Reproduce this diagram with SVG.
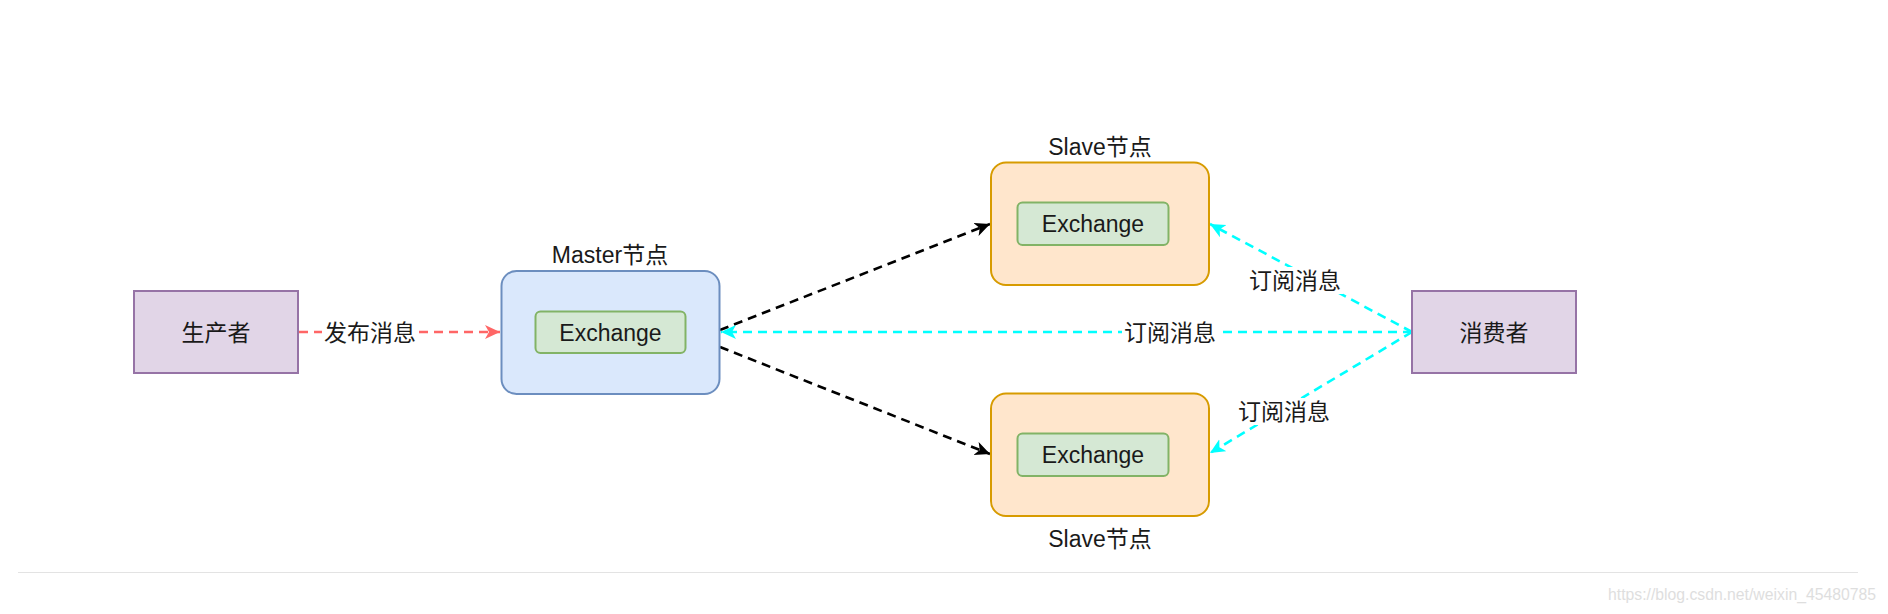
<svg xmlns="http://www.w3.org/2000/svg" width="1888" height="614" viewBox="0 0 1888 614">
<defs>
<style>
.t{font-family:"Liberation Sans","Noto Sans CJK SC",Arial,sans-serif;font-size:23px;fill:#1a1a1a;text-anchor:middle}
.lbl{fill:#ffffff}
.edge{fill:none;stroke-width:2.6;stroke-dasharray:9 6}
</style>
<marker id="arK" markerUnits="userSpaceOnUse" markerWidth="17" markerHeight="15" refX="15" refY="7" orient="auto"><path d="M0,0 L15,7 L0,14 L4,7 Z" fill="#000000"/></marker>
<marker id="arR" markerUnits="userSpaceOnUse" markerWidth="17" markerHeight="15" refX="15" refY="7" orient="auto"><path d="M0,0 L15,7 L0,14 L4,7 Z" fill="#ff6666"/></marker>
<marker id="arC" markerUnits="userSpaceOnUse" markerWidth="17" markerHeight="15" refX="15" refY="7" orient="auto"><path d="M0,0 L15,7 L0,14 L4,7 Z" fill="#00ffff"/></marker>
</defs>
<rect width="1888" height="614" fill="#ffffff"/>

<g id="connectors">
<line class="edge" x1="299" y1="332" x2="500" y2="332" stroke="#ff6666" marker-end="url(#arR)"/>
<line class="edge" x1="720" y1="330" x2="990" y2="224" stroke="#000000" marker-end="url(#arK)"/>
<line class="edge" x1="720" y1="347" x2="990" y2="454" stroke="#000000" marker-end="url(#arK)"/>
<line class="edge" x1="1412" y1="332" x2="721" y2="332" stroke="#00ffff" marker-end="url(#arC)"/>
<line class="edge" x1="1412" y1="332" x2="1210" y2="224" stroke="#00ffff" marker-end="url(#arC)"/>
<line class="edge" x1="1412" y1="332" x2="1210" y2="453" stroke="#00ffff" marker-end="url(#arC)"/>
<rect class="lbl" x="322" y="319" width="96" height="27"/>
<text class="t" x="370" y="341">发布消息</text>
<rect class="lbl" x="1122" y="319" width="96" height="27"/>
<text class="t" x="1170" y="341">订阅消息</text>
<rect class="lbl" x="1247" y="267" width="96" height="27"/>
<text class="t" x="1295" y="289">订阅消息</text>
<rect class="lbl" x="1236" y="398" width="96" height="27"/>
<text class="t" x="1284" y="420">订阅消息</text>
</g>

<g id="producer">
<rect x="134" y="291" width="164" height="82" fill="#e1d5e7" stroke="#9673a6" stroke-width="2"/>
<text class="t" x="216" y="341">生产者</text>
</g>

<g id="master">
<text class="t" x="610" y="263">Master节点</text>
<rect x="501.5" y="271" width="218" height="123" rx="15" fill="#dae8fc" stroke="#6c8ebf" stroke-width="2"/>
<rect x="535.5" y="311.5" width="150" height="41.5" rx="5" fill="#d5e8d4" stroke="#82b366" stroke-width="2"/>
<text class="t" x="610.5" y="341">Exchange</text>
</g>

<g id="slave-top">
<text class="t" x="1100" y="155">Slave节点</text>
<rect x="991" y="162.5" width="218" height="122.5" rx="15" fill="#ffe6cc" stroke="#d79b00" stroke-width="2"/>
<rect x="1017.5" y="202.5" width="151" height="42.5" rx="5" fill="#d5e8d4" stroke="#82b366" stroke-width="2"/>
<text class="t" x="1093" y="232">Exchange</text>
</g>

<g id="slave-bottom">
<rect x="991" y="393.5" width="218" height="122.5" rx="15" fill="#ffe6cc" stroke="#d79b00" stroke-width="2"/>
<rect x="1017.5" y="433.5" width="151" height="42.5" rx="5" fill="#d5e8d4" stroke="#82b366" stroke-width="2"/>
<text class="t" x="1093" y="463">Exchange</text>
<text class="t" x="1100" y="547">Slave节点</text>
</g>

<g id="consumer">
<rect x="1412" y="291" width="164" height="82" fill="#e1d5e7" stroke="#9673a6" stroke-width="2"/>
<text class="t" x="1494" y="341">消费者</text>
</g>

<line x1="18" y1="572.5" x2="1858" y2="572.5" stroke="#e3e3e3" stroke-width="1"/>
<text x="1876" y="600" font-family="'Liberation Sans',Arial,sans-serif" font-size="16" fill="#dedede" text-anchor="end" textLength="268" lengthAdjust="spacingAndGlyphs">https://blog.csdn.net/weixin_45480785</text>
</svg>
